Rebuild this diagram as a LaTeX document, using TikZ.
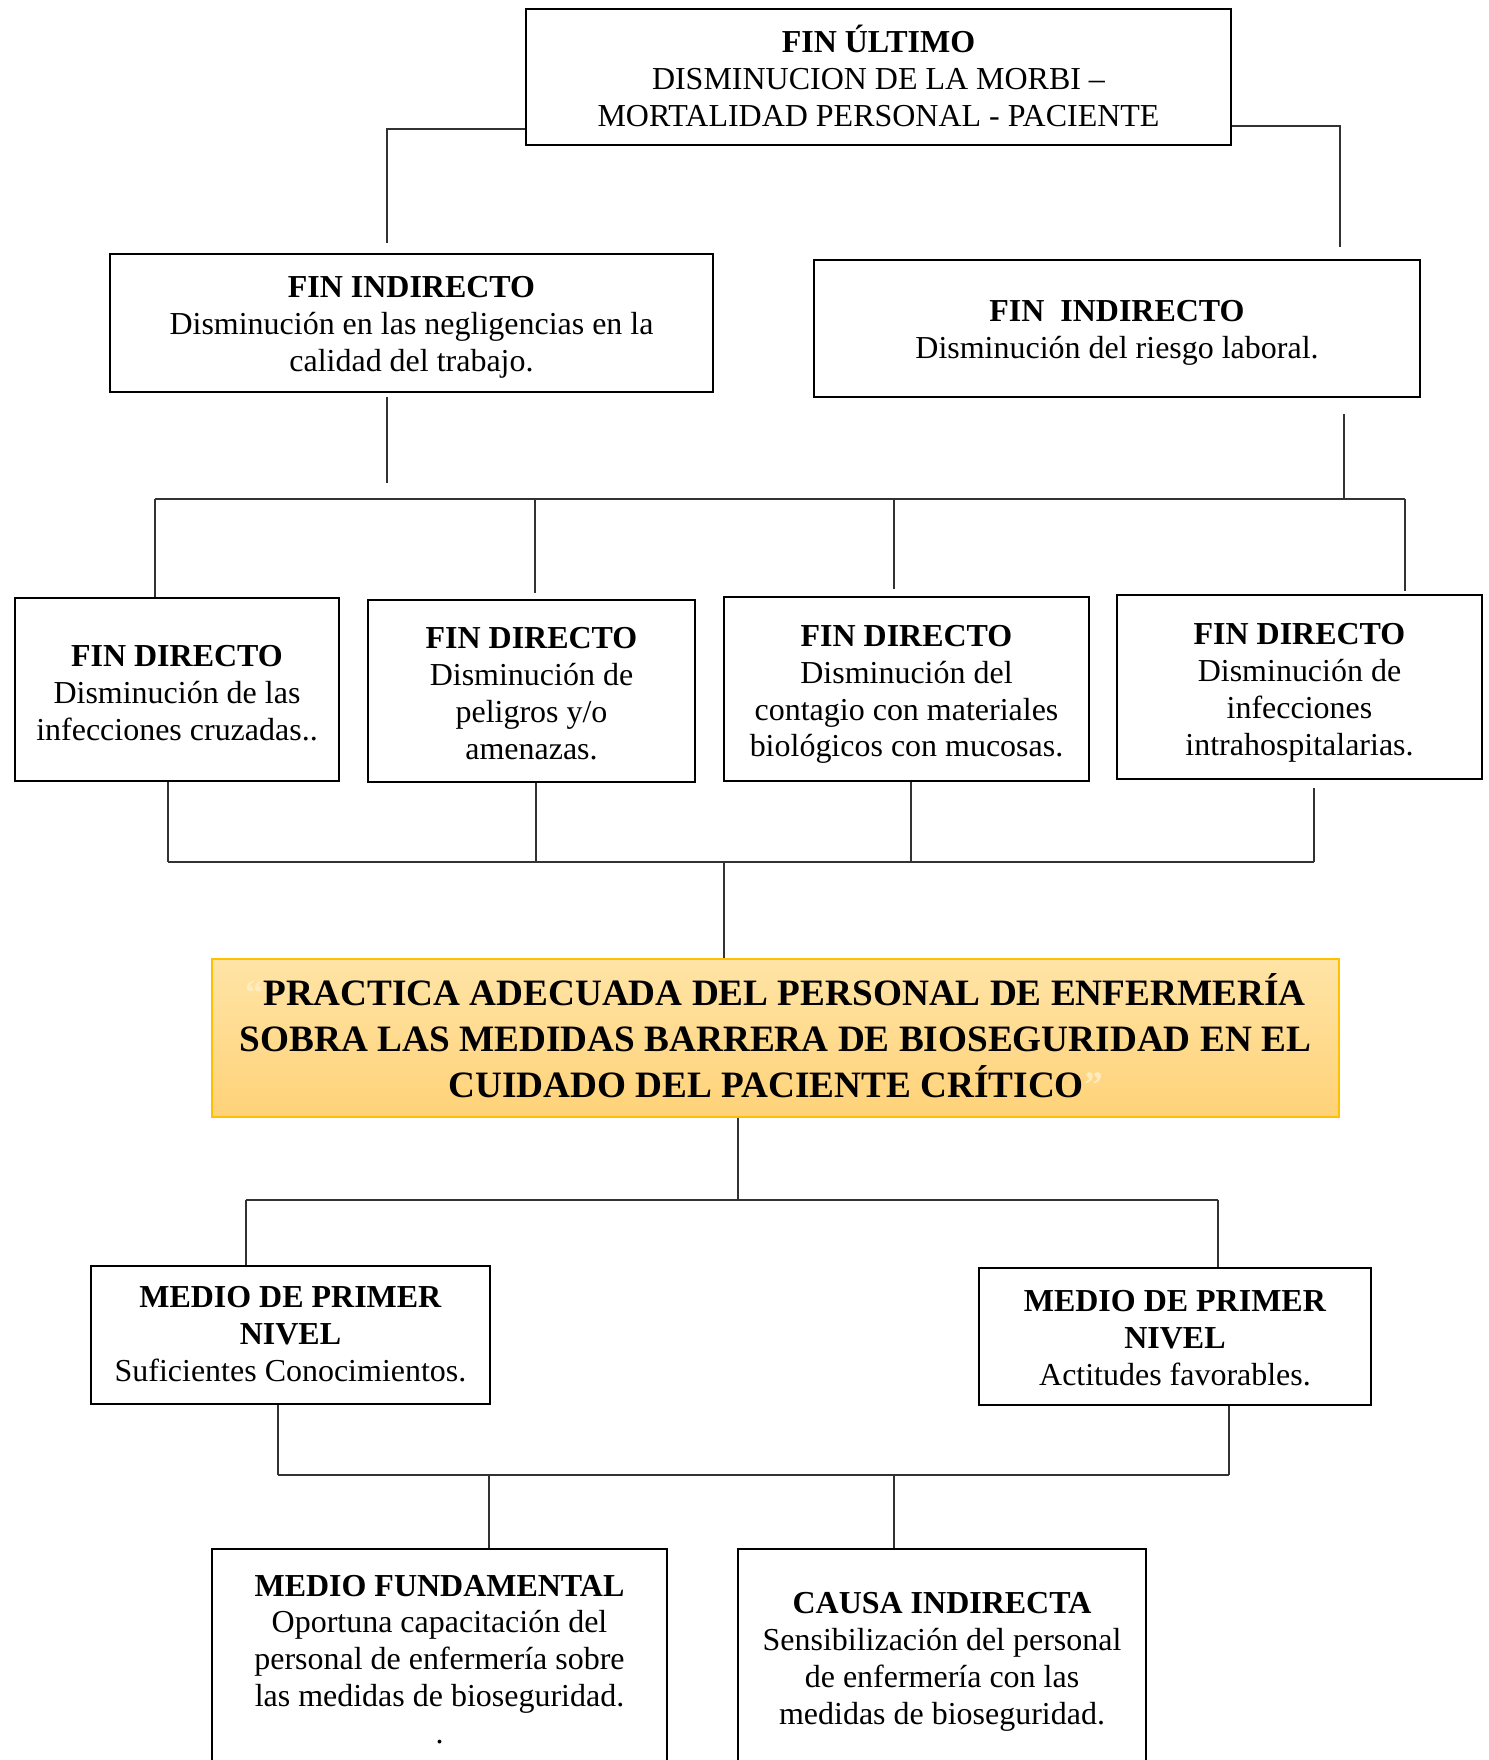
\documentclass[tikz,border=0pt]{standalone}
\usepackage{fontspec}
\setmainfont{Liberation Serif}
\definecolor{qc}{RGB}{255,236,190}
\definecolor{otop}{RGB}{255,228,166}
\definecolor{obot}{RGB}{255,210,120}
\definecolor{oborder}{RGB}{255,192,0}
\definecolor{lnc}{RGB}{50,50,50}
\newcommand\upx{0.02cm}
\tikzset{
  boxnode/.style={draw=black, line width=1.5pt, inner sep=0pt},
  txt/.style={align=center, inner sep=0pt, font=\fontsize{18.2}{21}\selectfont},
  conn/.style={draw=lnc, line width=0.65pt},
}
\begin{document}
\begin{tikzpicture}[x=0.02cm,y=-0.02cm]
\clip (0,0) rectangle (1488,1760);
\fill[white] (0,0) rectangle (1488,1760);

% boxes
\node[boxnode, minimum width=705*\upx, minimum height=136*\upx] (top) at (878.5,77) {};
\node[txt] (topt) at (878.5,76)
  {\textbf{FIN ÚLTIMO}\\DISMINUCION DE LA MORBI –\\MORTALIDAD PERSONAL - PACIENTE};

\node[boxnode, minimum width=603*\upx, minimum height=138*\upx] (ind1) at (411.5,323) {};
\node[txt] (ind1t) at (411.5,327.5)
  {\textbf{FIN INDIRECTO}\\Disminución en las negligencias en la\\calidad del trabajo.};

\node[boxnode, minimum width=606*\upx, minimum height=137*\upx] (ind2) at (1117,328.5) {};
\node[txt] (ind2t) at (1117,333)
  {\textbf{FIN\ \ INDIRECTO}\\Disminución del riesgo laboral.};

\node[boxnode, minimum width=324*\upx, minimum height=183*\upx] (d1) at (177,689.5) {};
\node[txt] (d1t) at (177,693)
  {\textbf{FIN DIRECTO}\\Disminución de las\\infecciones cruzadas..};

\node[boxnode, minimum width=327*\upx, minimum height=182*\upx] (d2) at (531.5,691) {};
\node[txt] (d2t) at (531.5,693.5)
  {\textbf{FIN DIRECTO}\\Disminución de\\peligros y/o\\amenazas.};

\node[boxnode, minimum width=365*\upx, minimum height=184*\upx] (d3) at (906.5,689) {};
\node[txt] (d3t) at (906.5,694.5)
  {\textbf{FIN DIRECTO}\\Disminución del\\contagio con materiales\\biológicos con mucosas.};

\node[boxnode, minimum width=365*\upx, minimum height=184*\upx] (d4) at (1299.5,687) {};
\node[txt] (d4t) at (1299.5,692.5)
  {\textbf{FIN DIRECTO}\\Disminución de\\infecciones\\intrahospitalarias.};

\node[draw=oborder, line width=0.9pt, top color=otop, bottom color=obot,
  inner sep=0pt, minimum width=1127*\upx, minimum height=158*\upx] (prac) at (775.5,1038) {};
\node[align=center, inner sep=0pt, font=\fontsize{21.2}{26.2}\selectfont\bfseries] (pract) at (775.5,1035.8)
  {{\color{qc}“}PRACTICA ADECUADA DEL PERSONAL DE ENFERMERÍA\\SOBRA LAS MEDIDAS BARRERA DE BIOSEGURIDAD EN EL\\CUIDADO DEL PACIENTE CRÍTICO{\color{qc}”}};

\node[boxnode, minimum width=399*\upx, minimum height=138*\upx] (m1) at (290.5,1335) {};
\node[txt] (m1t) at (290.5,1334)
  {\textbf{MEDIO DE PRIMER}\\\textbf{NIVEL}\\Suficientes Conocimientos.};

\node[boxnode, minimum width=392*\upx, minimum height=137*\upx] (m2) at (1175,1336.5) {};
\node[txt] (m2t) at (1175,1338.5)
  {\textbf{MEDIO DE PRIMER}\\\textbf{NIVEL}\\Actitudes favorables.};

\node[boxnode, minimum width=455*\upx, minimum height=221*\upx] (mf) at (439.5,1659.5) {};
\node[txt] (mft) at (439.5,1659.5)
  {\textbf{MEDIO FUNDAMENTAL}\\Oportuna capacitación del\\personal de enfermería sobre\\las medidas de bioseguridad.\\.};

\node[boxnode, minimum width=408*\upx, minimum height=219*\upx] (ci) at (942,1658.5) {};
\node[txt] (cit) at (942,1662)
  {\textbf{CAUSA INDIRECTA}\\Sensibilización del personal\\de enfermería con las\\medidas de bioseguridad.};

% coordinates
\coordinate (tl) at (387,129);
\coordinate (tle) at (387,243);
\coordinate (tr) at (1340,126);
\coordinate (tre) at (1340,247);
\coordinate (i1a) at (387,397);
\coordinate (i1b) at (387,483);
\coordinate (i2a) at (1344,414);
\coordinate (i2b) at (1344,499);
\coordinate (b1l) at (155,499);
\coordinate (b1r) at (1405,499);
\coordinate (b1x2) at (535,499);
\coordinate (b1x3) at (894,499);
\coordinate (b2l) at (168,862);
\coordinate (b2r) at (1314,862);
\coordinate (b2x2) at (536,862);
\coordinate (b2x3) at (911,862);
\coordinate (b2c) at (724,862);
\coordinate (b3c) at (738,1200);
\coordinate (b3l) at (246,1200);
\coordinate (b3r) at (1218,1200);
\coordinate (b4l) at (278,1475);
\coordinate (b4r) at (1229,1475);
\coordinate (b4x1) at (489,1475);
\coordinate (b4x2) at (894,1475);

% connectors
\draw[conn] (top.west |- tl) -- (tl) -- (tle);
\draw[conn] (top.east |- tr) -- (tr) -- (tre);
\draw[conn] (i1a) -- (i1b);
\draw[conn] (i2a) -- (i2b);
\draw[conn] (b1l) -- (b1r);
\draw[conn] (b1l) -- (b1l |- d1.north);
\draw[conn] (b1x2) -- ([yshift=0.12cm]b1x2 |- d2.north);
\draw[conn] (b1x3) -- ([yshift=0.14cm]b1x3 |- d3.north);
\draw[conn] (b1r) -- ([yshift=0.06cm]b1r |- d4.north);

\draw[conn] (b2l |- d1.south) -- (b2l);
\draw[conn] (b2x2 |- d2.south) -- (b2x2);
\draw[conn] (b2x3 |- d3.south) -- (b2x3);
\draw[conn] ([yshift=-0.16cm]b2r |- d4.south) -- (b2r);
\draw[conn] (b2l) -- (b2r);
\draw[conn] (b2c) -- (b2c |- prac.north);

\draw[conn] (b3c |- prac.south) -- (b3c);
\draw[conn] (b3l) -- (b3r);
\draw[conn] (b3l) -- (b3l |- m1.north);
\draw[conn] (b3r) -- (b3r |- m2.north);

\draw[conn] (b4l |- m1.south) -- (b4l);
\draw[conn] (b4r |- m2.south) -- (b4r);
\draw[conn] (b4l) -- (b4r);
\draw[conn] (b4x1) -- (b4x1 |- mf.north);
\draw[conn] (b4x2) -- (b4x2 |- ci.north);
\end{tikzpicture}
\end{document}
